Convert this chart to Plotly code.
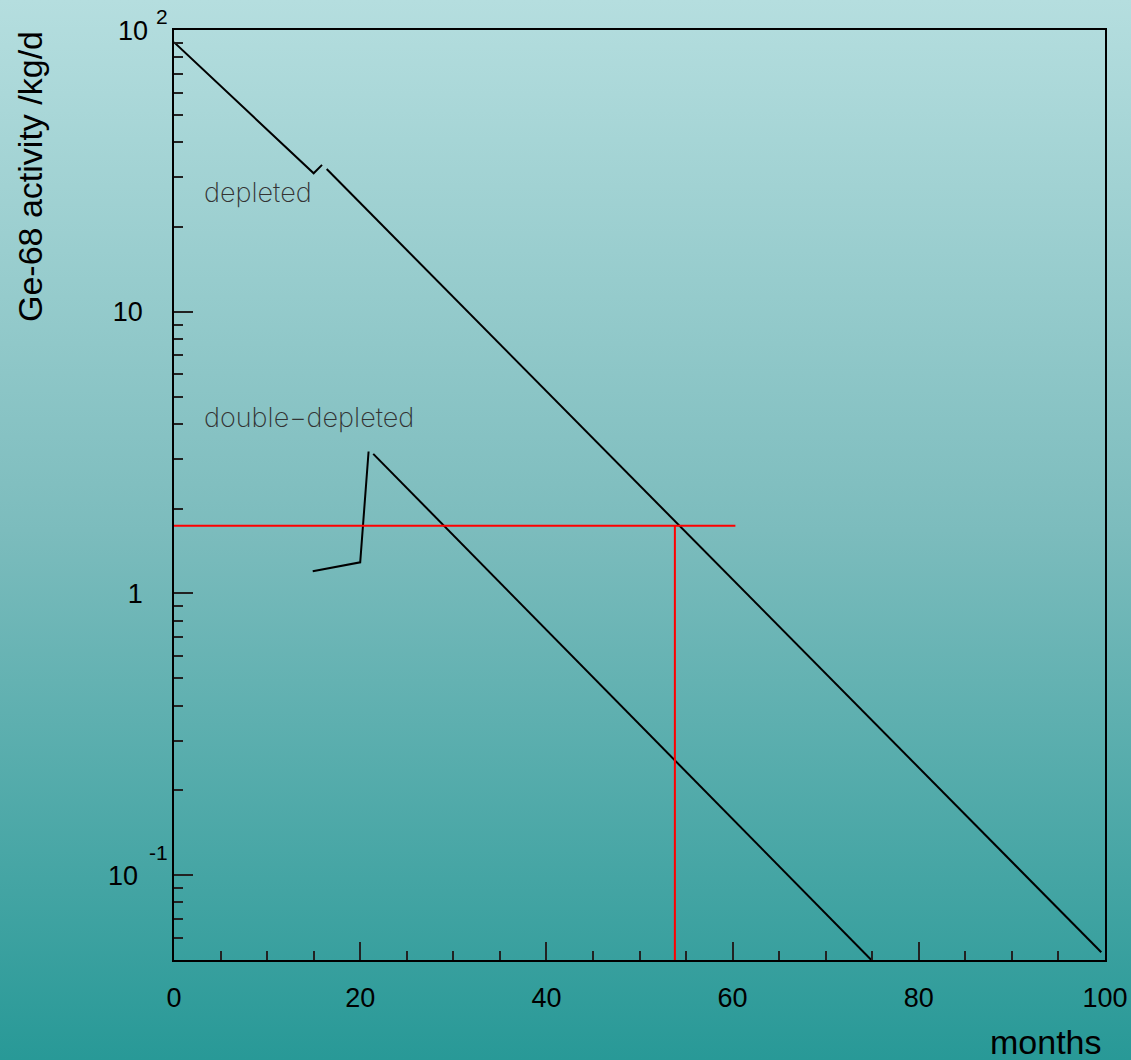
import base64
import math
import plotly.graph_objects as go

# ---- data ----
dep1_x = [0, 15.0, 15.9]
dep1_y = [90.5, 31.0, 33.2]
dep2_x = [16.4, 99.6]
dep2_y = [32.1, 0.0533]

dd1_x = [14.9, 20.0, 20.9]
dd1_y = [1.20, 1.29, 3.19]
dd2_x = [21.4, 74.9]
dd2_y = [3.13, 0.050]

red_h_x = [0, 60.3]
red_h_y = [1.74, 1.74]
red_v_x = [53.8, 53.8]
red_v_y = [1.74, 0.050]

x_ticks = [0, 20, 40, 60, 80, 100]
x_ticktext = ["0", "20", "40", "60", "80", "100"]
y_ticks = [0.1, 1, 10, 100]
y_ticktext = ["", "1", "10", ""]
# power-of-ten labels drawn ROOT-style: (value, mantissa, exponent)
y_pow_labels = [(0.1, "10", "-1"), (100, "10", "2")]
y_minor = [0.05, 0.06, 0.07, 0.08, 0.09,
           0.2, 0.3, 0.4, 0.5, 0.6, 0.7, 0.8, 0.9,
           2, 3, 4, 5, 6, 7, 8, 9,
           20, 30, 40, 50, 60, 70, 80, 90]

label_depleted = ("depleted", 3.0, 26.5)
label_double = ("double\u2212depleted", 3.0, 4.2)

W, H = 1131, 1060
L, R, T, B = 174, 26, 30, 100
pw, ph = W - L - R, H - T - B

fig = go.Figure()
line_k = dict(color="black", width=2)
line_r = dict(color="#ff0000", width=2)
fig.add_trace(go.Scatter(x=dep1_x, y=dep1_y, mode="lines", line=line_k))
fig.add_trace(go.Scatter(x=dep2_x, y=dep2_y, mode="lines", line=line_k))
fig.add_trace(go.Scatter(x=dd1_x, y=dd1_y, mode="lines", line=line_k))
fig.add_trace(go.Scatter(x=dd2_x, y=dd2_y, mode="lines", line=line_k))
fig.add_trace(go.Scatter(x=red_h_x, y=red_h_y, mode="lines", line=line_r))
fig.add_trace(go.Scatter(x=red_v_x, y=red_v_y, mode="lines", line=line_r))

svg = (f'<svg xmlns="http://www.w3.org/2000/svg" width="{W}" height="{H}" '
       f'viewBox="0 0 {W} {H}" preserveAspectRatio="none">'
       '<defs><linearGradient id="g" x1="0" y1="0" x2="0" y2="1">'
       '<stop offset="0" stop-color="rgb(181,222,223)"/>'
       '<stop offset="0.5" stop-color="rgb(124,188,189)"/>'
       '<stop offset="1" stop-color="rgb(40,153,151)"/>'
       '</linearGradient></defs>'
       f'<rect x="0" y="0" width="{W}" height="{H}" fill="url(#g)"/></svg>')
src = "data:image/svg+xml;base64," + base64.b64encode(svg.encode()).decode()

fig.add_layout_image(dict(source=src, xref="paper", yref="paper",
                          x=-L / pw, y=1 + T / ph, sizex=W / pw, sizey=H / ph,
                          xanchor="left", yanchor="top", sizing="stretch",
                          layer="below"))

font_tick = dict(family="Liberation Sans, Arial, sans-serif", size=27, color="black")
font_exp = dict(family="Liberation Sans, Arial, sans-serif", size=21, color="black")
font_title = dict(family="Liberation Sans, Arial, sans-serif", size=34, color="black")
label_font = dict(family="Inter, DejaVu Sans, sans-serif", size=27, color="#333333", weight=200)

for txt, lx, ly in (label_depleted, label_double):
    fig.add_annotation(text=txt, xref="x", yref="y", x=lx, y=math.log10(ly),
                       xanchor="left", yanchor="middle", showarrow=False, font=label_font)

# pixel placement of the ROOT-style power labels: mantissa left, exponent left, shifts
pow_pos = {0.1: (106, 147, -1, 23), 100: (116, 154, -1, 14)}
for val, mant, expo in y_pow_labels:
    mx, ex, mys, eys = pow_pos[val]
    fig.add_annotation(text=mant, xref="paper", yref="y",
                       x=(mx - L) / pw, y=math.log10(val),
                       xanchor="left", yanchor="middle", yshift=mys,
                       showarrow=False, font=font_tick)
    fig.add_annotation(text=expo, xref="paper", yref="y",
                       x=(ex - L) / pw, y=math.log10(val),
                       xanchor="left", yanchor="middle", yshift=eys,
                       showarrow=False, font=font_exp)

fig.add_annotation(text="months", xref="paper", yref="paper",
                   x=(1104 - L) / pw, y=1 - (1042 - T) / ph,
                   xanchor="right", yanchor="middle", showarrow=False, font=font_title)
fig.add_annotation(text="Ge-68 activity /kg/d", xref="paper", yref="paper",
                   x=(30 - L) / pw, y=1 - (177 - T) / ph, textangle=-90,
                   xanchor="center", yanchor="middle", showarrow=False, font=font_title)

fig.update_layout(
    width=W, height=H,
    margin=dict(l=L, r=R, t=T, b=B, autoexpand=False),
    paper_bgcolor="rgb(110,180,181)",
    plot_bgcolor="rgba(0,0,0,0)",
    showlegend=False,
    font=font_tick,
)
fig.update_xaxes(
    range=[0, 100], tickvals=x_ticks, ticktext=x_ticktext,
    ticks="inside", ticklen=18, tickwidth=1.5, tickcolor="#222222",
    minor=dict(dtick=5, tick0=0, ticks="inside", ticklen=9, tickwidth=1.5, tickcolor="#222222"),
    showline=True, linecolor="black", linewidth=1.5, mirror=True,
    showgrid=False, zeroline=False, ticklabelstandoff=13,
    tickfont=font_tick,
)
fig.update_yaxes(
    type="log", range=[-1.30103, 2], tickvals=y_ticks, ticktext=y_ticktext,
    ticks="inside", ticklen=19, tickwidth=1.5, tickcolor="#222222",
    minor=dict(tickvals=y_minor, ticks="inside", ticklen=9, tickwidth=1.5, tickcolor="#222222"),
    showline=True, linecolor="black", linewidth=1.5, mirror=True,
    showgrid=False, zeroline=False, ticklabelstandoff=24,
    tickfont=font_tick,
)

fig.write_html("out.html", config={"displayModeBar": False},
               post_script="document.body.style.margin='0';document.body.style.overflow='hidden';")
